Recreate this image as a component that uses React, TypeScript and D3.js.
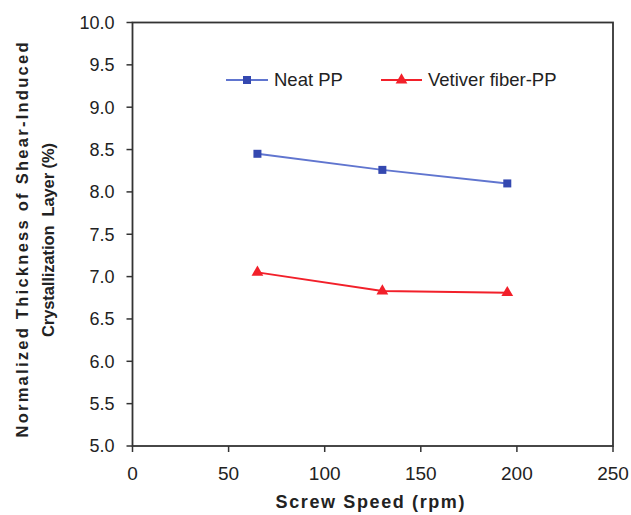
import React from "react";
import * as d3 from "d3";

const screwSpeed = [65, 130, 195];
const neatPP = [8.45, 8.26, 8.1];
const vetiverPP = [7.05, 6.83, 6.81];
const xTicks = [0, 50, 100, 150, 200, 250];
const yTicks = [5.0, 5.5, 6.0, 6.5, 7.0, 7.5, 8.0, 8.5, 9.0, 9.5, 10.0];
const seriesNames = ["Neat PP", "Vetiver fiber-PP"];
const xTitle = "Screw Speed (rpm)";
const yTitle1 = "Normalized Thickness of Shear-Induced";
const yTitle2 = "Crystallization  Layer (%)";

const W = 631;
const H = 515;
const L = 132.5;
const R = 613;
const T = 22.5;
const B = 446;

export default function App() {
  const x = d3.scaleLinear().domain([0, 250]).range([L, R]);
  const y = d3.scaleLinear().domain([5, 10]).range([B, T]);
  const line = d3
    .line<[number, number]>()
    .x((d) => x(d[0]))
    .y((d) => y(d[1]));
  const blueData = screwSpeed.map((s, i) => [s, neatPP[i]] as [number, number]);
  const redData = screwSpeed.map((s, i) => [s, vetiverPP[i]] as [number, number]);
  const tri = d3.symbol().type(d3.symbolTriangle).size(60)();
  const font = "Arial, 'Liberation Sans', sans-serif";
  const textColor = "#222";
  const axisColor = "#333";
  const blueLine = "#6075cf";
  const blueMark = "#3448b0";
  const red = "#f2202a";

  return (
    <svg
      width={W}
      height={H}
      style={{ position: "absolute", left: 0, top: 0, background: "#fff" }}
      fontFamily={font}
    >
      {/* frame */}
      <rect x={L} y={T} width={R - L} height={B - T} fill="none" stroke={axisColor} strokeWidth={1.8} />
      {/* y ticks */}
      {yTicks.map((t) => (
        <g key={"y" + t}>
          <line x1={L - 6} x2={L} y1={y(t)} y2={y(t)} stroke={axisColor} strokeWidth={1.5} />
          <text x={114.5} y={y(t)} dy="0.35em" textAnchor="end" fontSize={18} fill={textColor}>
            {t.toFixed(1)}
          </text>
        </g>
      ))}
      {/* x ticks */}
      {xTicks.map((t) => (
        <g key={"x" + t}>
          <line x1={x(t)} x2={x(t)} y1={B} y2={B + 6} stroke={axisColor} strokeWidth={1.5} />
          <text x={x(t)} y={480} textAnchor="middle" fontSize={19} fill={textColor}>
            {t}
          </text>
        </g>
      ))}
      {/* axis titles */}
      <text
        x={370}
        y={508}
        textAnchor="middle"
        fontSize={18}
        fontWeight="bold"
        fill={textColor}
        textLength={189}
        lengthAdjust="spacing"
      >
        {xTitle}
      </text>
      <text
        transform={`translate(28,240) rotate(-90)`}
        textAnchor="middle"
        fontSize={16.5}
        fontWeight="bold"
        fill={textColor}
        textLength={395}
        lengthAdjust="spacing"
      >
        {yTitle1}
      </text>
      <text
        transform={`translate(54,240) rotate(-90)`}
        textAnchor="middle"
        fontSize={16.5}
        fontWeight="bold"
        fill={textColor}
        textLength={194}
        lengthAdjust="spacing"
        style={{ whiteSpace: "pre" }}
      >
        {yTitle2}
      </text>
      {/* series */}
      <path d={line(blueData) || ""} fill="none" stroke={blueLine} strokeWidth={2} />
      {blueData.map((d, i) => (
        <rect key={"b" + i} x={x(d[0]) - 4} y={y(d[1]) - 4} width={8} height={8} fill={blueMark} />
      ))}
      <path d={line(redData) || ""} fill="none" stroke={red} strokeWidth={2} />
      {redData.map((d, i) => (
        <path key={"r" + i} d={tri || ""} transform={`translate(${x(d[0])},${y(d[1])})`} fill={red} />
      ))}
      {/* legend */}
      <line x1={226} x2={268} y1={80} y2={80} stroke={blueLine} strokeWidth={2} />
      <rect x={243} y={76} width={8} height={8} fill={blueMark} />
      <text x={274} y={86} fontSize={18.5} fill={textColor}>
        {seriesNames[0]}
      </text>
      <line x1={381} x2={422} y1={80} y2={80} stroke={red} strokeWidth={2} />
      <path d={tri || ""} transform="translate(401.5,80)" fill={red} />
      <text x={428} y={86} fontSize={18.5} fill={textColor}>
        {seriesNames[1]}
      </text>
    </svg>
  );
}
